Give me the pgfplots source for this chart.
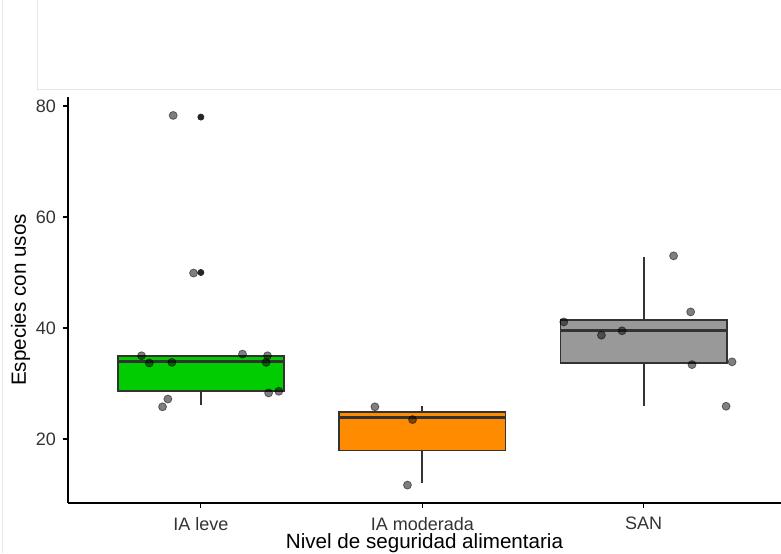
\documentclass[border=0pt]{standalone}
\usepackage{pgfplots}
\pgfplotsset{compat=1.18}
\usepgfplotslibrary{statistics}
\usepackage{fontspec}
\setmainfont{Liberation Sans}

\definecolor{boxgreen}{HTML}{00CC00}
\definecolor{boxorange}{HTML}{FF8C00}
\definecolor{boxgray}{HTML}{999999}
\definecolor{edge}{HTML}{333333}
\definecolor{frame}{HTML}{E6E6E6}

% 1 px of the reference = 0.5pt
\begin{document}
\begin{tikzpicture}
\path[use as bounding box] (0pt,0pt) rectangle (390.5pt,276.5pt);
% empty panel above the plot
\draw[frame,line width=0.5pt] (18.5pt,276.5pt) -- (18.5pt,232pt) -- (390.5pt,232pt);
\draw[frame,line width=0.5pt] (1pt,0pt) -- (1pt,276.5pt);

\begin{axis}[
    at={(34pt,25pt)}, anchor=south west,
    scale only axis,
    width=356.5pt, height=203pt,
    xmin=0.4, xmax=3.62,
    ymin=8.47, ymax=81.62,
    axis x line*=bottom, axis y line*=left,
    axis line style={black,line width=0.6pt},
    xtick={1,2,3},
    xticklabels={IA leve, IA moderada, SAN},
    ytick={20,40,60,80},
    tick align=outside,
    major tick length=2.5pt,
    tick style={black,line width=0.6pt},
    /pgf/number format/assume math mode=true,
    ticklabel style={font=\fontsize{9}{10}\selectfont, text=black!80},
    xticklabel style={yshift=-1pt},
    xlabel={Nivel de seguridad alimentaria},
    ylabel={Especies con usos},
    label style={font=\fontsize{10.3}{11}\selectfont},
    xlabel style={yshift=5pt},
    ylabel style={yshift=-4pt},
    clip=false,
    boxplot/draw direction=y,
    boxplot/whisker extend=0,
    boxplot/every whisker/.style={line width=0.9pt},
    boxplot/every median/.style={line width=1.5pt},
]
% boxes
\addplot+[boxplot prepared={draw position=1, box extend=0.75,
    lower whisker=26.1, lower quartile=28.7, median=33.9,
    upper quartile=35.0, upper whisker=35.0},
    draw=edge, fill=boxgreen, line width=0.8pt, solid] coordinates {};
\addplot+[boxplot prepared={draw position=2, box extend=0.75,
    lower whisker=12.0, lower quartile=17.9, median=23.9,
    upper quartile=24.9, upper whisker=25.9},
    draw=edge, fill=boxorange, line width=0.8pt, solid] coordinates {};
\addplot+[boxplot prepared={draw position=3, box extend=0.75,
    lower whisker=26.0, lower quartile=33.7, median=39.5,
    upper quartile=41.4, upper whisker=52.8},
    draw=edge, fill=boxgray, line width=0.8pt, solid] coordinates {};

% outliers of IA leve
\addplot[only marks, mark=*, mark size=1.5pt, draw=black!85, fill=black!85]
    coordinates {(1,78.0) (1,50.0)};

% jittered observations
\addplot[only marks, mark=*, mark size=2pt,
    mark options={draw=black, fill=black, draw opacity=0.5, fill opacity=0.5}]
    coordinates {
    (0.875,78.3) (0.967,49.9) (0.732,35.0) (0.767,33.7) (0.869,33.8)
    (1.188,35.3) (1.301,35.0) (1.295,33.8) (1.306,28.3) (1.352,28.6)
    (0.851,27.2) (0.827,25.8)
    (1.786,25.8) (1.956,23.5) (1.933,11.7)
    (3.135,53.0) (3.212,42.9) (2.639,41.1) (2.809,38.7) (2.902,39.5)
    (3.218,33.4) (3.399,33.9) (3.372,25.9)
    };
\end{axis}
\end{tikzpicture}
\end{document}
